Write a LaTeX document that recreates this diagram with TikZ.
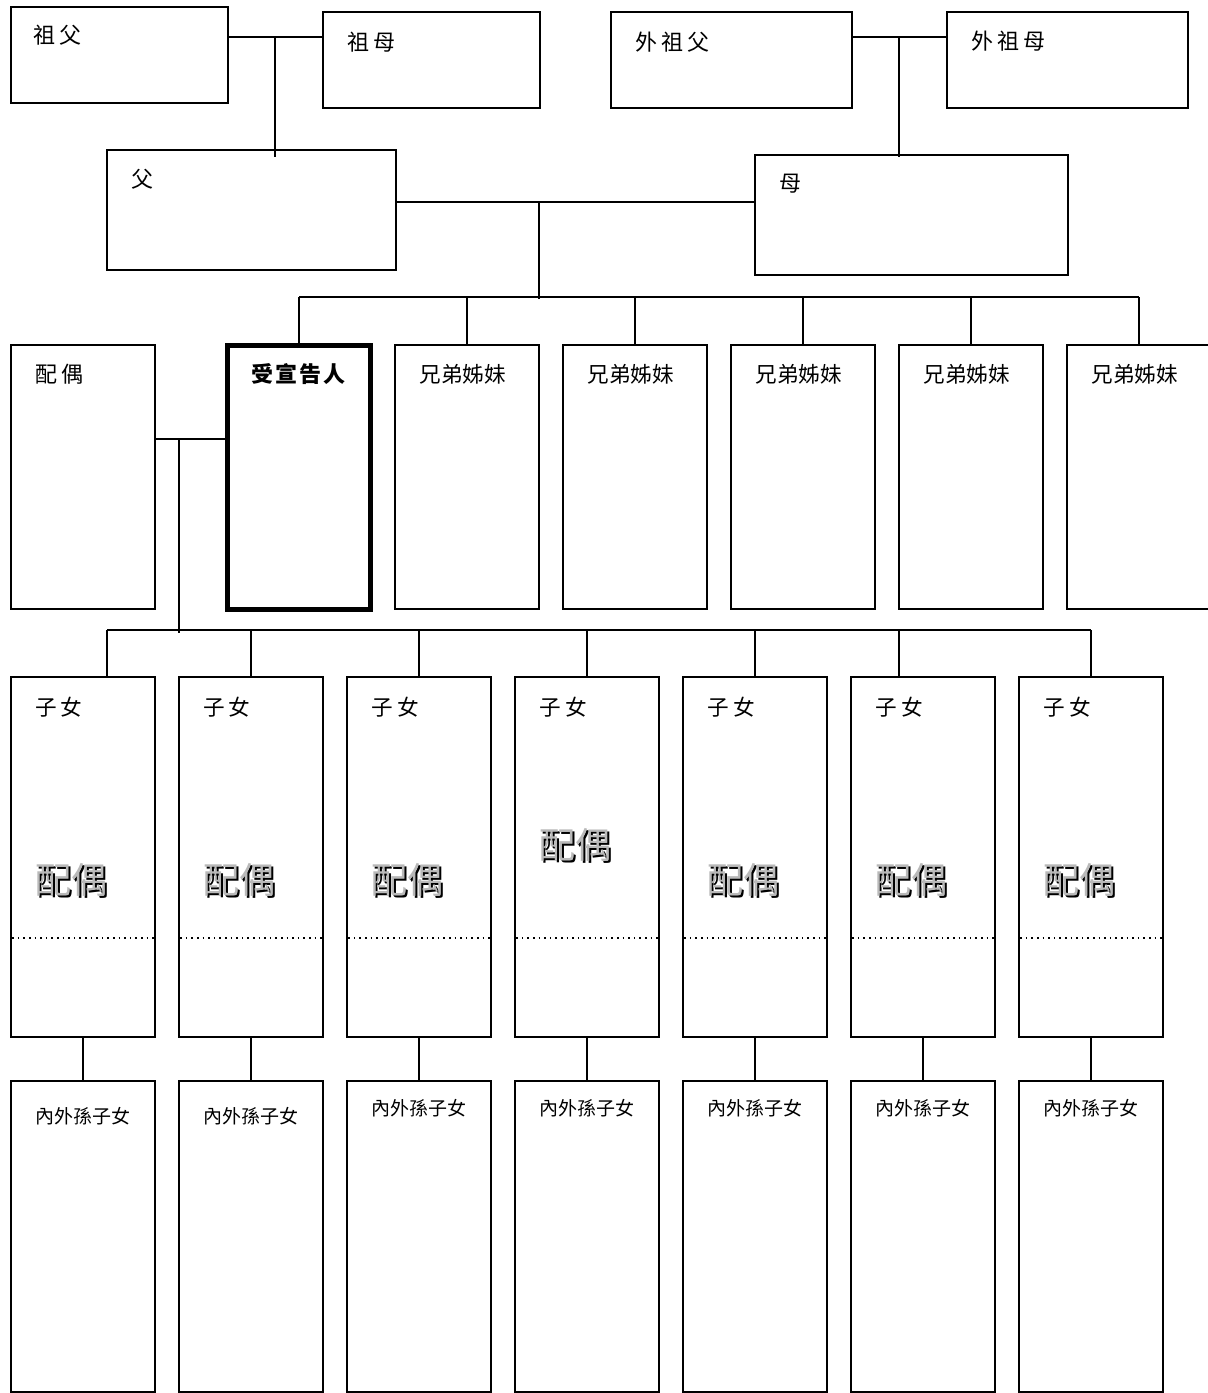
\documentclass[tikz,border=0pt]{standalone}
\usepackage{fontspec}
\setmainfont{Noto Sans CJK TC}
\usetikzlibrary{calc}
\newcommand\kk[1][2pt]{\hspace{#1}}
\newcommand\mkbox[6][]{\node[box,#1,minimum width={(#5-#3)*0.5pt},minimum height={(#6-#4)*0.5pt}] (#2) at ({(#3+#5)/2},{(#4+#6)/2}) {};}
\tikzset{
  box/.style={draw=black,line width=1pt,rectangle,inner sep=0pt,outer sep=0pt,fill=white},
  heavybox/.style={line width=2.6pt},
  lbl/.style={anchor=west,inner sep=0pt,font=\fontsize{11}{13}\selectfont},
  sib/.style={anchor=west,inner sep=0pt,font=\fontsize{10.8}{13}\selectfont},
  gc/.style={anchor=west,inner sep=0pt,font=\fontsize{9.5}{11}\selectfont},
  emb/.style={anchor=west,inner sep=0pt,font=\fontsize{18}{20}\selectfont,text=gray!55},
  embshadow/.style={anchor=west,inner sep=0pt,font=\fontsize{18}{20}\selectfont,text=black},
  conn/.style={draw=black,line width=1pt},
  divider/.style={dotted,line width=0.8pt,shorten <=0.6pt,shorten >=0.6pt},
}
\begin{document}
\begin{tikzpicture}[x=0.5pt,y=-0.5pt]
\useasboundingbox (0,0) rectangle (1208,1393);
% ---- grandparents
\mkbox{zf}{11}{7}{228}{103}
\mkbox{zm}{323}{12}{540}{108}
\mkbox{wzf}{611}{12}{852}{108}
\mkbox{wzm}{947}{12}{1188}{108}
% ---- parents
\mkbox{fa}{107}{150}{396}{270}
\mkbox{mo}{755}{155}{1068}{275}
% ---- row 3
\mkbox{sp}{11}{345}{155}{609}
\mkbox[heavybox]{pp}{227.5}{345.5}{370.5}{609.5}
\mkbox{s1}{395}{345}{539}{609}
\mkbox{s2}{563}{345}{707}{609}
\mkbox{s3}{731}{345}{875}{609}
\mkbox{s4}{899}{345}{1043}{609}
\mkbox{s5}{1067}{345}{1211}{609}
% ---- children and grandchildren
\coordinate (dl) at (0,938);
\foreach \i/\xa in {1/11,2/179,3/347,4/515,5/683,6/851,7/1019}{
  \mkbox{c\i}{\xa}{677}{\xa+144}{1037}
  \mkbox{g\i}{\xa}{1081}{\xa+144}{1392}
  \draw[divider] (c\i.west |- dl) -- (c\i.east |- dl);
  \node[sib] (c\i-t) at (\xa+24,707) {子\kk 女};
  \draw[conn] (c\i.south) -- (g\i.north);
}
% labels
\node[lbl] (zf-t) at (33,35) {祖\kk 父};
\node[lbl] (zm-t) at (347,42) {祖\kk 母};
\node[lbl] (wzf-t) at (635,42) {外\kk 祖\kk 父};
\node[lbl] (wzm-t) at (971,41) {外\kk 祖\kk 母};
\node[lbl] (fa-t) at (131,179) {父};
\node[lbl] (mo-t) at (779,184) {母};
\node[lbl] (sp-t) at (35,374) {配\kk 偶};
\node[lbl,font=\fontsize{11}{13}\selectfont\bfseries] (pp-t) at (251,374) {受\kk[1pt]宣\kk[1pt]告\kk[1pt]人};
\foreach \i/\xa in {1/419,2/587,3/755,4/923,5/1091}{
  \node[sib] (s\i-t) at (\xa,374) {兄弟姊妹};
}
% embossed 配偶 in children boxes
\foreach \i/\xa/\ya in {1/35/880,2/203/880,3/371/880,4/539/845,5/707/880,6/875/880,7/1043/880}{
  \node[embshadow] (e\i-s) at (\xa+1.6,\ya+1.6) {配偶};
  \node[emb] (e\i) at (\xa,\ya) {配偶};
}
% grandchildren labels
\foreach \i/\xa/\ya in {1/35/1116,2/203/1116,3/371/1108,4/539/1108,5/707/1108,6/875/1108,7/1043/1108}{
  \node[gc] (g\i-t) at (\xa,\ya) {內外孫子女};
}
% ---- connectors
\coordinate (jz) at (275,37);
\draw[conn] (zf.east |- jz) -- (zm.west |- jz);
\draw[conn] (jz) -- ($(fa.north -| jz)+(0,7)$);
\coordinate (jw) at (899,37);
\draw[conn] (wzf.east |- jw) -- (wzm.west |- jw);
\draw[conn] (jw) -- ($(mo.north -| jw)+(0,2)$);
\coordinate (jp) at (539,202);
\draw[conn] (fa.east |- jp) -- (mo.west |- jp);
\coordinate (sb) at (539,297);
\draw[conn] (jp) -- ($(sb)+(0,2)$);
\draw[conn] (pp.north |- sb) -- (s5.north |- sb);
\foreach \n in {pp,s1,s2,s3,s4,s5}{
  \draw[conn] (\n.north |- sb) -- (\n.north);
}
\coordinate (js) at (179,439);
\draw[conn] (sp.east |- js) -- (pp.west |- js);
\coordinate (cb) at (179,630);
\draw[conn] (js) -- ($(cb)+(0,3)$);
\coordinate (d1) at (107,630);
\coordinate (d6) at (899,630);
\draw[conn] (d1) -- (c7.north |- cb);
\draw[conn] (d1) -- (c1.north -| d1);
\foreach \n in {c2,c3,c4,c5,c7}{
  \draw[conn] (\n.north |- cb) -- (\n.north);
}
\draw[conn] (d6) -- (c6.north -| d6);
\end{tikzpicture}
\end{document}
